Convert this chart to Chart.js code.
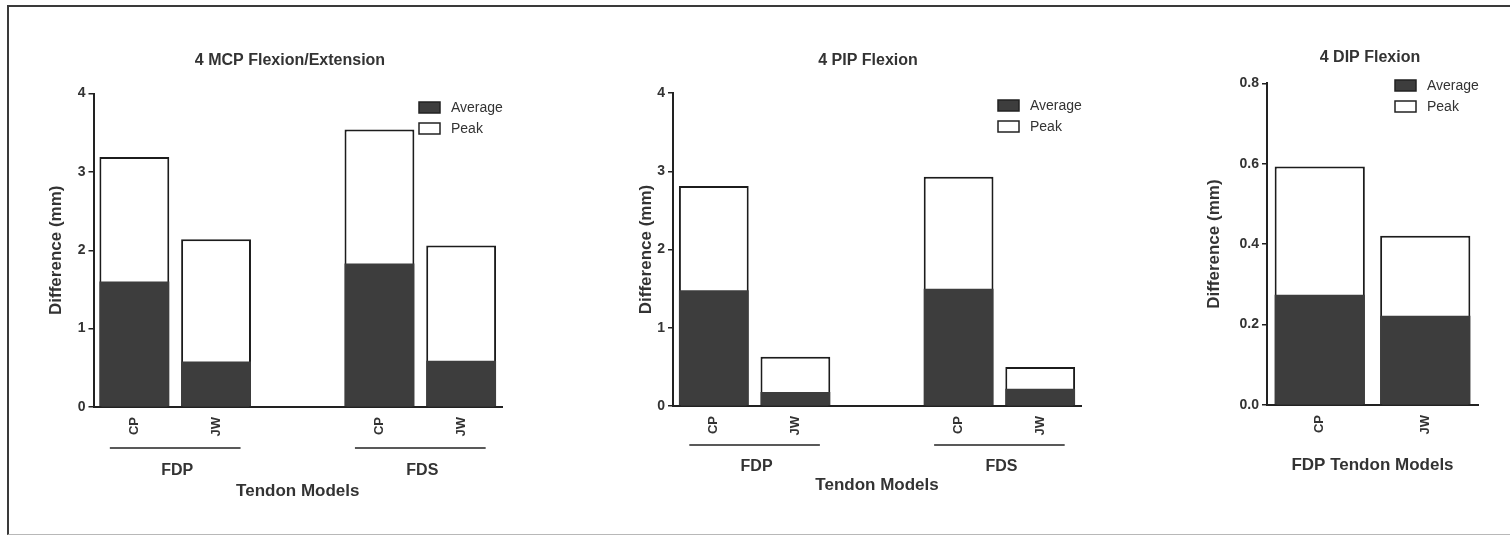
<!DOCTYPE html>
<html>
<head>
<meta charset="utf-8">
<script src="https://cdn.jsdelivr.net/npm/chart.js@4.4.0/dist/chart.umd.min.js"></script>
<style>
  body { margin: 0; background: #fff; width: 1510px; height: 536px; overflow: hidden; position: relative; }
  #frame { position: absolute; left: 7px; top: 5px; width: 1520px; height: 527px;
           border-left: 2px solid #3a3a3a; border-top: 2px solid #3a3a3a; border-bottom: 1px solid #b8b8b8; }
  canvas { position: absolute; top: 0; }
</style>
</head>
<body>
<div id="frame"></div>
<canvas id="mcpChart" width="500" height="536" style="left:20px"></canvas>
<canvas id="pipChart" width="500" height="536" style="left:600px"></canvas>
<canvas id="dipChart" width="340" height="536" style="left:1160px"></canvas>
<script>
// Data (mm)
const modelCats = ['CP', 'JW', '', 'CP', 'JW'];
const mcpAverage = [1.60, 0.58, null, 1.83, 0.59];
const mcpPeak = [3.19, 2.14, null, 3.54, 2.06];
const pipAverage = [1.48, 0.18, null, 1.50, 0.22];
const pipPeak = [2.81, 0.63, null, 2.93, 0.50];
const dipCats = ['CP', 'JW'];
const dipAverage = [0.274, 0.222];
const dipPeak = [0.593, 0.421];

// Tendon groups under the x axis
const groupNames = ['FDP', 'FDS'];
const groupFirst = [0, 3];
const groupLast = [1, 4];

// Y tick values
const mmTicks = [0, 1, 2, 3, 4];
const dipTicks = [0, 0.2, 0.4, 0.6, 0.8];

const FONT = '"Liberation Sans", Arial, sans-serif';
Chart.defaults.font.family = FONT;
Chart.defaults.color = '#333';

// title, legend and group labels
const extras = {
  id: 'extras',
  afterDraw(chart, args, o) {
    const ctx = chart.ctx;
    const area = chart.chartArea;
    const xs = chart.scales.x;
    ctx.save();
    ctx.fillStyle = '#333';
    ctx.textAlign = 'center';
    ctx.textBaseline = 'middle';
    ctx.font = 'bold 16px ' + FONT;
    ctx.fillText(o.title, o.titleX, o.titleY);

    if (o.groups) {
      const slot = xs.getPixelForValue(1) - xs.getPixelForValue(0);
      ctx.strokeStyle = '#222';
      ctx.lineWidth = 1.5;
      groupNames.forEach((name, i) => {
        const a = xs.getPixelForValue(groupFirst[i]) - 0.3 * slot;
        const b = xs.getPixelForValue(groupLast[i]) + 0.3 * slot;
        ctx.beginPath();
        ctx.moveTo(a, o.lineY);
        ctx.lineTo(b, o.lineY);
        ctx.stroke();
        ctx.fillText(name, (a + b) / 2 + 2, o.groupY);
      });
    }

    // legend
    const sets = chart.data.datasets.slice().sort((p, q) => p.order - q.order);
    const bx = area.right - 83;
    ctx.font = '14px ' + FONT;
    ctx.textAlign = 'left';
    sets.forEach((ds, i) => {
      const y = o.legendTop + i * 21;
      ctx.fillStyle = ds.backgroundColor;
      ctx.fillRect(bx, y, 21, 11);
      ctx.strokeStyle = '#222';
      ctx.lineWidth = 1.5;
      ctx.strokeRect(bx, y, 21, 11);
      ctx.fillStyle = '#333';
      ctx.fillText(ds.label, bx + 32, y + 6);
    });
    ctx.restore();
  }
};

function makeChart(id, cats, avg, peak, cfg) {
  return new Chart(document.getElementById(id), {
    type: 'bar',
    data: {
      labels: cats,
      datasets: [
        { label: 'Average', data: avg, backgroundColor: '#3d3d3d', borderWidth: 0,
          order: 0, grouped: false, barPercentage: 0.855, categoryPercentage: 1 },
        { label: 'Peak', data: peak, backgroundColor: '#ffffff', borderColor: '#1c1c1c', borderWidth: 2,
          order: 1, grouped: false, barPercentage: 0.855, categoryPercentage: 1 }
      ]
    },
    options: {
      responsive: false,
      animation: false,
      devicePixelRatio: 1,
      layout: { padding: { top: cfg.top, right: cfg.right, bottom: 0, left: 0 } },
      plugins: {
        legend: { display: false },
        title: { display: false },
        tooltip: { enabled: false },
        extras: cfg.extras
      },
      scales: {
        x: {
          grid: { display: false, drawTicks: false },
          border: { display: true, color: '#222', width: 2 },
          ticks: { color: '#333', font: { size: 13, weight: 'bold' }, minRotation: 90, maxRotation: 90, padding: 10, autoSkip: false },
          title: { display: true, text: cfg.xTitle, color: '#333', font: { size: 17, weight: 'bold' },
                   padding: { top: 0, bottom: cfg.xTitlePad } },
          afterFit: s => { s.height = cfg.xHeight; }
        },
        y: {
          min: 0,
          max: cfg.ticks[cfg.ticks.length - 1],
          grid: { drawOnChartArea: false, color: '#222', lineWidth: 1.5, tickLength: 5 },
          border: { display: true, color: '#222', width: 2 },
          ticks: { color: '#333', font: { size: 14, weight: 'bold' }, padding: 3, callback: cfg.fmt },
          afterBuildTicks: s => { s.ticks = cfg.ticks.map(v => ({ value: v })); },
          title: { display: true, text: 'Difference (mm)', color: '#333', font: { size: 17, weight: 'bold' },
                   padding: { top: cfg.yTitlePad, bottom: 0 } },
          afterFit: s => { s.width = cfg.yWidth; }
        }
      }
    },
    plugins: [extras]
  });
}

makeChart('mcpChart', modelCats, mcpAverage, mcpPeak, {
  top: 93.5, right: 18, yWidth: 73.5, xHeight: 129, xTitlePad: 34.8, yTitlePad: 25.8,
  ticks: mmTicks, fmt: v => String(v), xTitle: 'Tendon Models',
  extras: { title: '4 MCP Flexion/Extension', titleX: 270, titleY: 61, groups: true, lineY: 448, groupY: 471, legendTop: 102 }
});

makeChart('pipChart', modelCats, pipAverage, pipPeak, {
  top: 93, right: 19, yWidth: 73, xHeight: 130, xTitlePad: 40.8, yTitlePad: 35.8,
  ticks: mmTicks, fmt: v => String(v), xTitle: 'Tendon Models',
  extras: { title: '4 PIP Flexion', titleX: 268, titleY: 61, groups: true, lineY: 445, groupY: 467, legendTop: 100 }
});

makeChart('dipChart', dipCats, dipAverage, dipPeak, {
  top: 83.3, right: 22, yWidth: 107, xHeight: 131, xTitlePad: 60.8, yTitlePad: 43.8,
  ticks: dipTicks, fmt: v => v.toFixed(1), xTitle: 'FDP Tendon Models',
  extras: { title: '4 DIP Flexion', titleX: 210, titleY: 58, groups: false, legendTop: 80 }
});
</script>
</body>
</html>
